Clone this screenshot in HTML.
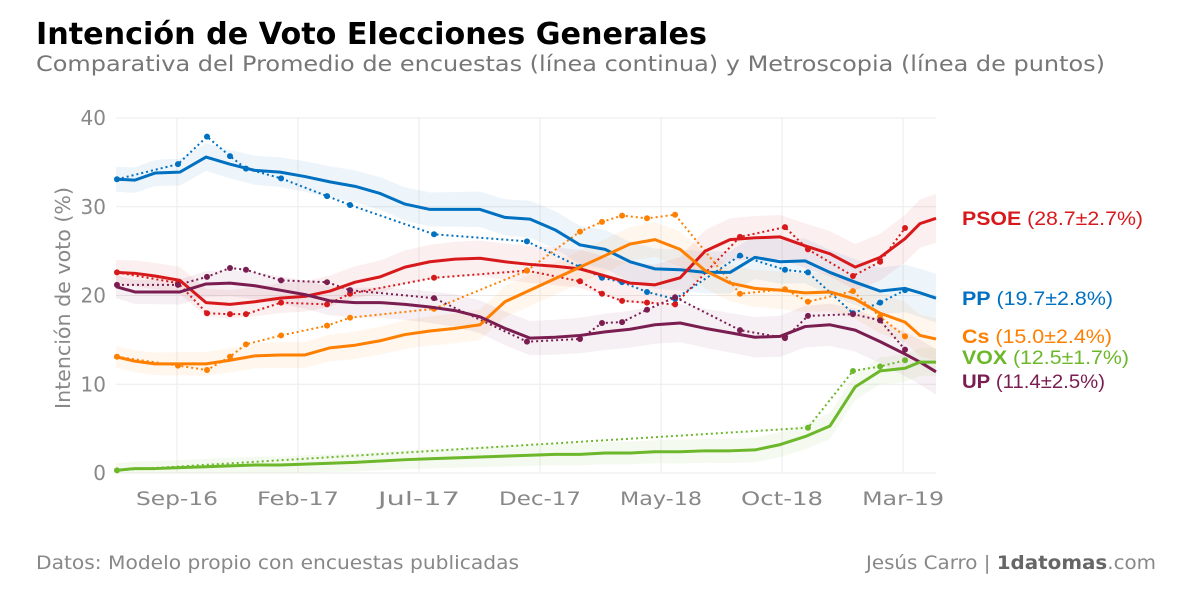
<!DOCTYPE html>
<html><head><meta charset="utf-8"><style>
body{margin:0;background:#fff;width:1181px;height:591px;overflow:hidden;font-family:"Liberation Sans",sans-serif}
svg{display:block}
</style></head><body>
<svg id="chart" width="1181" height="591">
<text x="36" y="44" font-size="30" font-weight="bold" fill="#000" font-family="DejaVu Sans, Liberation Sans, sans-serif" textLength="671" lengthAdjust="spacingAndGlyphs">Intención de Voto Elecciones Generales</text>
<text x="36" y="71" font-size="21" fill="#777" font-family="DejaVu Sans, Liberation Sans, sans-serif" textLength="1069" lengthAdjust="spacingAndGlyphs">Comparativa del Promedio de encuestas (línea continua) y Metroscopia (línea de puntos)</text>
<g id="grid"></g>
<g id="bands"></g>
<g id="lines"></g>
<g id="axes"></g>
<text transform="translate(70,298) rotate(-90)" text-anchor="middle" font-size="20" fill="#888" font-family="DejaVu Sans, Liberation Sans, sans-serif" textLength="222" lengthAdjust="spacingAndGlyphs">Intención de voto (%)</text>
<g font-size="19">
<text x="962" y="225" fill="#d7191c" textLength="181" lengthAdjust="spacingAndGlyphs"><tspan font-weight="bold">PSOE</tspan> (28.7±2.7%)</text>
<text x="962" y="305" fill="#0070c0" textLength="151" lengthAdjust="spacingAndGlyphs"><tspan font-weight="bold">PP</tspan> (19.7±2.8%)</text>
<text x="962" y="343" fill="#ff7f00" textLength="150" lengthAdjust="spacingAndGlyphs"><tspan font-weight="bold">Cs</tspan> (15.0±2.4%)</text>
<text x="962" y="364" fill="#6cb72a" textLength="167" lengthAdjust="spacingAndGlyphs"><tspan font-weight="bold">VOX</tspan> (12.5±1.7%)</text>
<text x="962" y="388" fill="#7a1d51" textLength="143" lengthAdjust="spacingAndGlyphs"><tspan font-weight="bold">UP</tspan> (11.4±2.5%)</text>
</g>
<text x="36" y="569" font-size="19" fill="#888" font-family="DejaVu Sans, Liberation Sans, sans-serif" textLength="483" lengthAdjust="spacingAndGlyphs">Datos: Modelo propio con encuestas publicadas</text>
<text x="1156" y="569" text-anchor="end" font-size="19" fill="#888" font-family="DejaVu Sans, Liberation Sans, sans-serif" textLength="290" lengthAdjust="spacingAndGlyphs">Jesús Carro | <tspan font-weight="bold" fill="#666">1datomas</tspan>.com</text>
</svg>
<script>
const gridT=[5.48,6.26,7.09,8.12,9.20,10.19,11.22,12.26,13.29,14.32,15.36,16.39,17.42,18.45,19.49,20.52,21.55,22.59,23.62,24.65,25.69,26.72,27.75,28.79,29.82,30.85,31.88,32.92,33.95,34.98,36.02,37.05,38.08,38.70,39.36];
const ppAvg=[33.1,33.0,33.8,33.9,35.6,34.8,34.1,33.9,33.4,32.8,32.3,31.5,30.3,29.7,29.7,29.7,28.8,28.6,27.4,25.7,25.2,23.8,23.0,22.9,22.6,22.6,24.3,23.8,23.9,22.6,21.5,20.5,20.8,20.3,19.7];
const psoeAvg=[22.6,22.5,22.2,21.7,19.2,19.0,19.3,19.7,19.9,20.5,21.5,22.1,23.2,23.8,24.1,24.2,23.8,23.5,23.3,23.0,22.2,21.4,21.2,22.0,25.0,26.3,26.5,26.6,25.6,24.7,23.2,24.3,26.4,28.1,28.7];
const csAvg=[13.1,12.6,12.3,12.3,12.3,12.7,13.2,13.3,13.3,14.1,14.4,14.9,15.6,16.0,16.3,16.7,19.3,20.6,21.9,23.2,24.5,25.8,26.3,25.2,22.8,21.4,20.8,20.6,20.3,20.4,19.6,18.0,17.0,15.5,15.1];
const upAvg=[21.0,20.4,20.4,20.4,21.3,21.4,21.1,20.6,20.1,19.4,19.2,19.2,19.0,18.7,18.3,17.6,16.3,15.2,15.3,15.5,15.9,16.2,16.7,16.9,16.3,15.8,15.3,15.4,16.5,16.7,16.1,14.8,13.4,12.5,11.4];
const voxAvg=[0.3,0.5,0.5,0.6,0.7,0.8,0.9,0.9,1.0,1.1,1.2,1.35,1.5,1.6,1.7,1.8,1.9,2.0,2.1,2.1,2.25,2.25,2.4,2.4,2.5,2.5,2.6,3.2,4.1,5.3,9.7,11.5,11.8,12.5,12.5];
const metroT=[5.52,8.04,9.24,10.19,10.85,12.30,14.20,15.15,18.62,22.46,24.65,25.56,26.39,27.42,28.58,31.26,33.12,34.07,35.93,37.05,38.08];
const ppMetro=[33.1,34.8,37.9,35.7,34.3,33.2,31.2,30.2,26.9,26.1,23.2,22.0,21.5,20.4,19.6,24.5,22.9,22.6,18.0,19.2,20.6];
const psoeMetro=[22.6,21.4,18.0,17.9,17.9,19.2,19.0,20.2,22.0,22.8,21.6,20.2,19.4,19.2,19.0,26.6,27.7,25.2,22.2,23.8,27.6];
const csMetro=[13.1,12.1,11.6,13.1,14.5,15.5,16.6,17.5,18.5,22.8,27.2,28.3,29.0,28.7,29.1,20.2,20.7,19.3,20.5,17.6,15.4];
const upMetro=[21.2,21.2,22.1,23.1,22.9,21.7,21.5,20.6,19.7,14.8,15.1,16.9,17.0,18.4,19.8,16.1,15.2,17.7,17.9,17.2,13.9];
const voxMetro=[0.3,null,null,null,null,null,null,null,null,null,null,null,null,null,null,null,null,5.1,11.5,12.0,12.7];
const xTickVals=[8,13,18,23,28,33,38];
const xTickLabels=["Sep-16","Feb-17","Jul-17","Dec-17","May-18","Oct-18","Mar-19"];
const yTickVals=[0,10,20,30,40];
const bandErr=[1.4,1.4,1.2,1.3,0.8];

const X0=116,X1=936,Y0=473,Y1=118,TMIN=5.48,TMAX=39.36;
const xs=t=>X0+(t-TMIN)/(TMAX-TMIN)*(X1-X0);
const ys=v=>Y0-v/40*(Y0-Y1);
const NS="http://www.w3.org/2000/svg";
function mk(tag,attrs,parent){const e=document.createElementNS(NS,tag);for(const k in attrs)e.setAttribute(k,attrs[k]);parent.appendChild(e);return e;}
const grid=document.getElementById('grid'),axes=document.getElementById('axes'),bands=document.getElementById('bands'),lines=document.getElementById('lines');
yTickVals.forEach(v=>{
 const l=mk('line',{x1:X0,x2:X1,y1:ys(v),y2:ys(v),stroke:'#ebebeb','stroke-width':1},grid);
 
 
 const t=mk('text',{x:106,y:ys(v)+7,'text-anchor':'end','font-size':20,fill:'#888','font-family':'DejaVu Sans, Liberation Sans, sans-serif'},axes);
 t.textContent=v;
 
 
});
xTickVals.forEach((v,i)=>{
 const l=mk('line',{x1:xs(v),x2:xs(v),y1:Y1,y2:Y0,stroke:'#ebebeb','stroke-width':1},grid);
 
 
 const t=mk('text',{x:xs(v),y:505,'text-anchor':'middle','font-size':19,fill:'#888','font-family':'DejaVu Sans, Liberation Sans, sans-serif',textLength:82,lengthAdjust:'spacingAndGlyphs'},axes);
 t.textContent=xTickLabels[i];
 
 
});
const series=[
 {n:'pp',c:'#0070c0',avg:ppAvg,m:ppMetro},
 {n:'psoe',c:'#d7191c',avg:psoeAvg,m:psoeMetro},
 {n:'cs',c:'#ff7f00',avg:csAvg,m:csMetro},
 {n:'up',c:'#7a1d51',avg:upAvg,m:upMetro},
 {n:'vox',c:'#6cb72a',avg:voxAvg,m:voxMetro}];
series.forEach((s,si)=>{
 const e=bandErr[si];
 const top=gridT.map((t,i)=>xs(t)+','+ys(s.avg[i]+e*(1+i/gridT.length)));
 const bot=gridT.map((t,i)=>xs(t)+','+ys(Math.max(0,s.avg[i]-e*(1+i/gridT.length)))).reverse();
 const b=mk('polygon',{points:top.concat(bot).join(' '),fill:s.c,'fill-opacity':0.07},bands);
 
 
});
series.forEach(s=>{
 const pts=[];s.m.forEach((v,i)=>{if(v!==null)pts.push([xs(metroT[i]),ys(v)]);});
 const d=mk('polyline',{points:pts.map(p=>p.join(',')).join(' '),fill:'none',stroke:s.c,'stroke-width':2,'stroke-dasharray':'2,3'},lines);
 
 
 pts.forEach(p=>{
  const c=mk('circle',{cx:p[0],cy:p[1],r:3,fill:s.c},lines);
  
  
 });
});
series.forEach(s=>{
 const l=mk('polyline',{points:gridT.map((t,i)=>xs(t)+','+ys(s.avg[i])).join(' '),fill:'none',stroke:s.c,'stroke-width':3,'stroke-linejoin':'round'},lines);
 
 
});
</script>
</body></html>
